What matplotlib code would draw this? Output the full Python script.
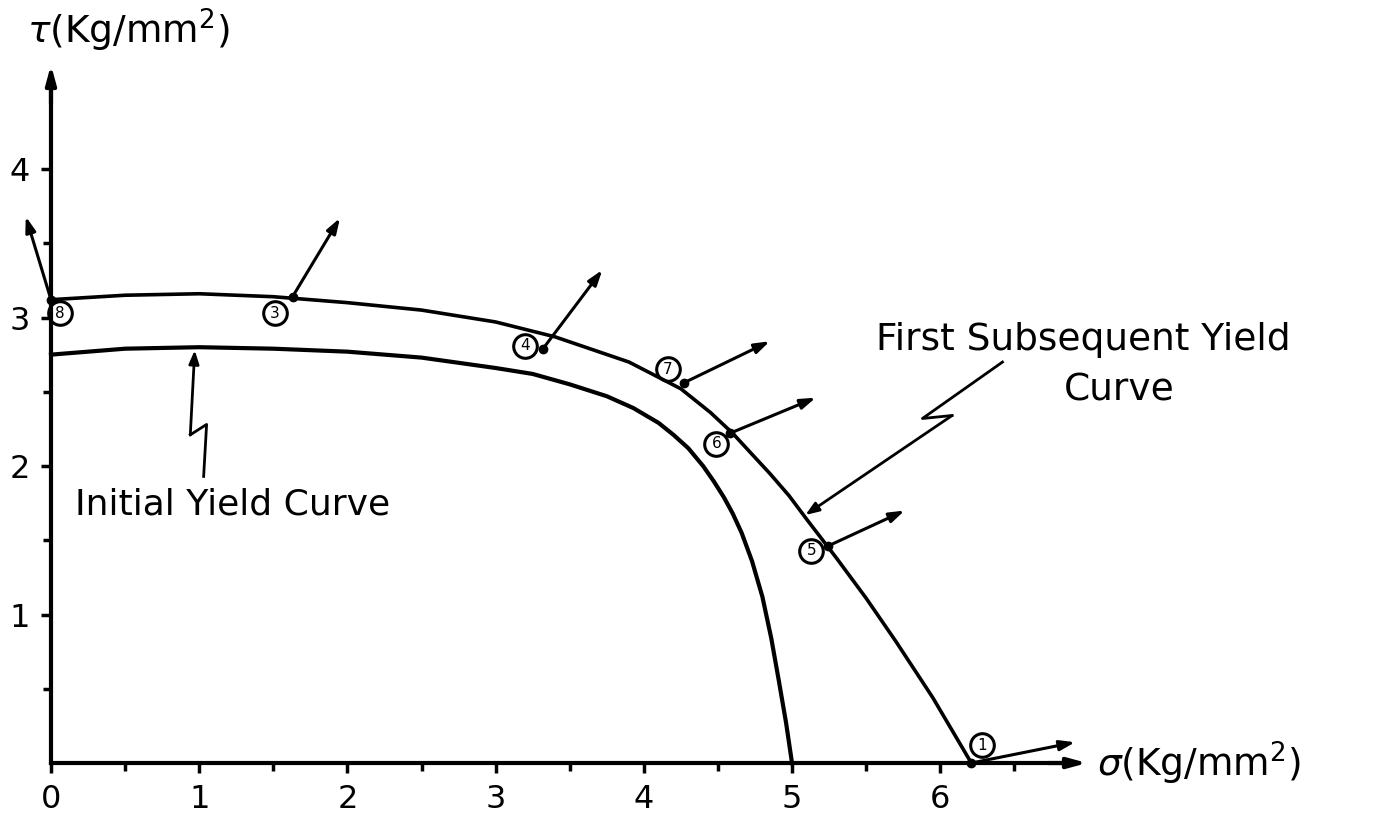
import matplotlib
matplotlib.use("Agg")
import matplotlib.pyplot as plt

# Yield surface data (sigma, tau in Kg/mm^2)
initial_sigma = [0.0, 0.5, 1.0, 1.5, 2.0, 2.5, 3.0, 3.25, 3.5, 3.75, 3.93, 4.1, 4.2, 4.3, 4.4, 4.47, 4.54, 4.6, 4.66, 4.73, 4.8, 4.86, 4.91, 4.96, 5.0]
initial_tau = [2.75, 2.79, 2.80, 2.79, 2.77, 2.73, 2.66, 2.62, 2.55, 2.47, 2.39, 2.29, 2.21, 2.12, 2.00, 1.90, 1.79, 1.68, 1.55, 1.36, 1.12, 0.84, 0.56, 0.27, 0.0]

subsequent_sigma = [0.0, 0.5, 1.0, 1.5, 2.0, 2.5, 3.0, 3.4, 3.9, 4.25, 4.45, 4.6, 4.72, 4.85, 4.98, 5.1, 5.3, 5.5, 5.7, 5.95, 6.21]
subsequent_tau = [3.12, 3.15, 3.16, 3.14, 3.10, 3.05, 2.97, 2.87, 2.70, 2.52, 2.36, 2.22, 2.09, 1.95, 1.80, 1.64, 1.38, 1.11, 0.82, 0.44, 0.0]

# Numbered load points and their plastic strain increment directions
point_labels = ["8", "3", "4", "7", "6", "5", "1"]
label_sigma = [0.06, 1.51, 3.20, 4.16, 4.49, 5.13, 6.28]
label_tau = [3.03, 3.03, 2.81, 2.65, 2.15, 1.43, 0.12]
tail_sigma = [0.0, 1.63, 3.32, 4.27, 4.58, 5.24, 6.21]
tail_tau = [3.12, 3.14, 2.79, 2.56, 2.22, 1.46, 0.0]
head_sigma = [-0.17, 1.95, 3.72, 4.85, 5.16, 5.76, 6.91]
head_tau = [3.68, 3.67, 3.32, 2.84, 2.46, 1.70, 0.14]

x_ticks = [0, 1, 2, 3, 4, 5, 6]
x_minor = [0.5, 1.5, 2.5, 3.5, 4.5, 5.5, 6.5]
y_ticks = [1, 2, 3, 4]
y_minor = [0.5, 1.5, 2.5, 3.5]

# Leader lines for the curve captions
init_leader_sigma = [1.03, 1.05, 0.94, 0.97]
init_leader_tau = [1.93, 2.28, 2.21, 2.78]
sub_leader_sigma = [6.42, 5.88, 6.08, 5.09]
sub_leader_tau = [2.70, 2.32, 2.34, 1.67]

fig = plt.figure(figsize=(13.97, 8.15), dpi=100)
ax = fig.add_axes([0, 0, 1, 1])
ax.set_xlim(-0.344, 9.082)
ax.set_ylim(-0.350, 5.138)

ink = "black"
x_end, y_end = 7.01, 4.72

for side in ("top", "right"):
    ax.spines[side].set_visible(False)
for side in ("left", "bottom"):
    ax.spines[side].set_position(("data", 0))
    ax.spines[side].set_linewidth(3)
ax.spines["bottom"].set_bounds(0, x_end - 0.1)
ax.spines["left"].set_bounds(0, y_end - 0.1)

ax.set_xticks(x_ticks)
ax.set_xticks(x_minor, minor=True)
ax.set_yticks(y_ticks)
ax.set_yticks(y_minor, minor=True)
ax.set_xticklabels([str(t) for t in x_ticks])
ax.set_yticklabels([str(t) for t in y_ticks])
ax.tick_params(which="both", direction="out", width=2.5, labelsize=23)
ax.tick_params(which="major", length=7, pad=8)
ax.tick_params(which="minor", length=6)

# axis arrowheads
ax.annotate("", xy=(x_end, 0), xytext=(x_end - 0.3, 0),
            arrowprops=dict(arrowstyle="-|>,head_length=1.1,head_width=0.3", lw=3, color=ink))
ax.annotate("", xy=(0, y_end), xytext=(0, y_end - 0.3),
            arrowprops=dict(arrowstyle="-|>,head_length=1.1,head_width=0.3", lw=3, color=ink))

ax.text(x_end + 0.05, 0.0, r"$\sigma$(Kg/mm$^2$)", fontsize=27, ha="left", va="center")
ax.text(-0.16, 4.93, r"$\tau$(Kg/mm$^2$)", fontsize=27, ha="left", va="center")

# yield curves
ax.plot(initial_sigma, initial_tau, color=ink, lw=3, solid_joinstyle="round")
ax.plot(subsequent_sigma, subsequent_tau, color=ink, lw=2.6, solid_joinstyle="round")

# numbered points with loading direction arrows
for lab, lx, ly, tx, ty, hx, hy in zip(point_labels, label_sigma, label_tau,
                                        tail_sigma, tail_tau, head_sigma, head_tau):
    ax.annotate("", xy=(hx, hy), xytext=(tx, ty),
                arrowprops=dict(arrowstyle="-|>,head_length=0.9,head_width=0.3",
                                lw=2.2, color=ink, shrinkA=0, shrinkB=0))
    ax.plot([tx], [ty], "o", color=ink, ms=6)
    ax.plot([lx], [ly], "o", mfc="none", mec=ink, mew=2.2, ms=17)
    ax.text(lx, ly, lab, fontsize=11, ha="center", va="center")

# captions with zigzag leaders
ax.plot(init_leader_sigma[:-1], init_leader_tau[:-1], color=ink, lw=2)
ax.annotate("", xy=(init_leader_sigma[-1], init_leader_tau[-1]),
            xytext=(init_leader_sigma[-2], init_leader_tau[-2]),
            arrowprops=dict(arrowstyle="-|>,head_length=0.8,head_width=0.3",
                            lw=2, color=ink, shrinkA=0, shrinkB=0))
ax.text(0.16, 1.74, "Initial Yield Curve", fontsize=26, ha="left", va="center")

ax.plot(sub_leader_sigma[:-1], sub_leader_tau[:-1], color=ink, lw=2)
ax.annotate("", xy=(sub_leader_sigma[-1], sub_leader_tau[-1]),
            xytext=(sub_leader_sigma[-2], sub_leader_tau[-2]),
            arrowprops=dict(arrowstyle="-|>,head_length=0.8,head_width=0.3",
                            lw=2, color=ink, shrinkA=0, shrinkB=0))
ax.text(5.57, 2.85, "First Subsequent Yield", fontsize=27, ha="left", va="center")
ax.text(7.21, 2.51, "Curve", fontsize=27, ha="center", va="center")

fig.savefig("out.png", dpi=100, facecolor="white")
